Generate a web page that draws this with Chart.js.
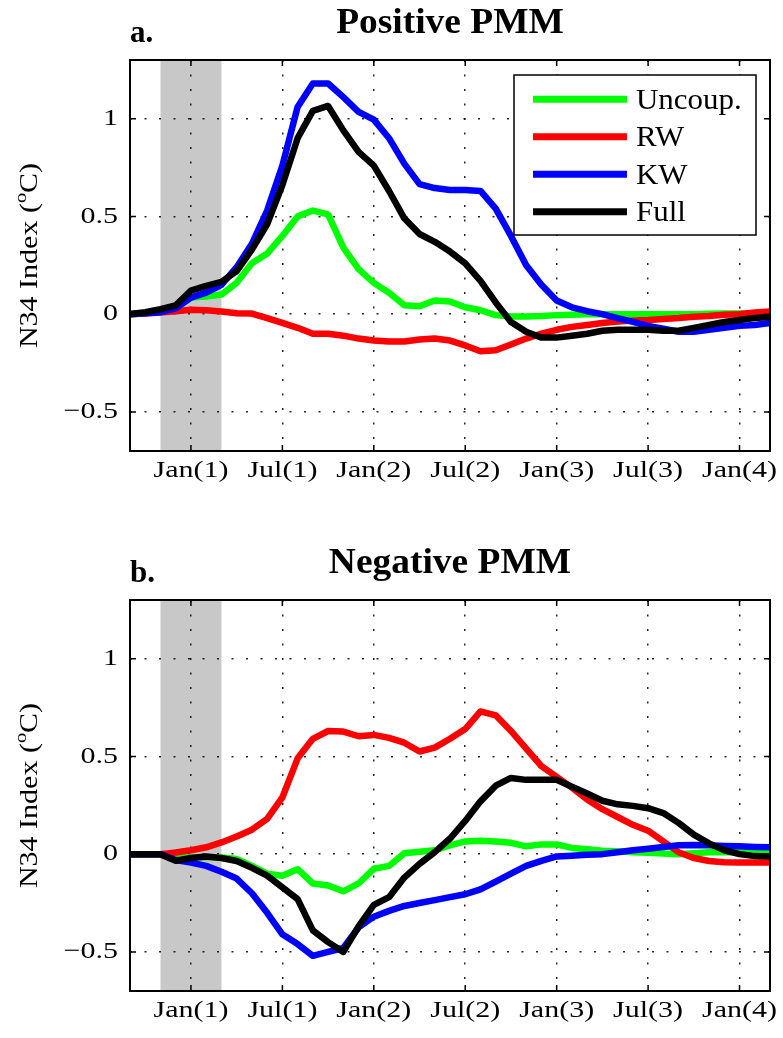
<!DOCTYPE html>
<html><head><meta charset="utf-8">
<script src="https://cdn.jsdelivr.net/npm/chart.js@4.4.1/dist/chart.umd.min.js"></script>
<style>
html,body{margin:0;padding:0;background:#fff;}
#wrap{position:relative;width:783px;height:1038px;overflow:hidden;background:#fff;}
canvas{position:absolute;left:0;}
#ca{top:0}
#cb{top:540px}
</style></head><body>
<div id="wrap"><canvas id="ca" width="783" height="540"></canvas><canvas id="cb" width="783" height="498"></canvas></div>
<script>
// ---------- data ----------
const months = [-4,-3,-2,-1,0,1,2,3,4,5,6,7,8,9,10,11,12,13,14,15,16,17,18,19,20,21,22,23,24,25,26,27,28,29,30,31,32,33,34,35,36,37,38];
const xTickValues = [0,6,12,18,24,30,36];
const xTickLabels = ['Jan(1)','Jul(1)','Jan(2)','Jul(2)','Jan(3)','Jul(3)','Jan(4)'];
const yTickValues = [-0.5,0,0.5,1];
const yTickLabels = ['\u22120.5','0','0.5','1'];
const seriesNames = ['Uncoup.','RW','KW','Full'];
const seriesColors = ['#00ff00','#ff0000','#0000ff','#000000'];
const shadeRange = [-2,2];

// Positive PMM
const posUncoup = [0,0.005,0.015,0.03,0.085,0.09,0.1,0.16,0.26,0.31,0.4,0.5,0.53,0.51,0.34,0.23,0.16,0.11,0.045,0.04,0.07,0.065,0.035,0.02,-0.005,-0.012,-0.012,-0.01,-0.005,-0.003,0,0,0,0,0,0,0,0,0.002,0.003,0.003,0.003,0.003];
const posRW     = [0,0.003,0.008,0.015,0.022,0.02,0.013,0.005,0.003,-0.02,-0.045,-0.07,-0.1,-0.1,-0.11,-0.125,-0.135,-0.14,-0.14,-0.13,-0.125,-0.135,-0.16,-0.19,-0.185,-0.155,-0.125,-0.1,-0.08,-0.065,-0.055,-0.045,-0.038,-0.033,-0.03,-0.025,-0.02,-0.013,-0.009,-0.003,0,0.008,0.013];
const posKW     = [0,0.005,0.01,0.03,0.085,0.11,0.15,0.24,0.36,0.53,0.76,1.06,1.18,1.18,1.11,1.035,0.995,0.9,0.77,0.665,0.645,0.635,0.635,0.63,0.54,0.4,0.25,0.15,0.07,0.035,0.015,0,-0.02,-0.04,-0.06,-0.075,-0.09,-0.09,-0.08,-0.07,-0.06,-0.055,-0.045];
const posFull   = [0,0.01,0.025,0.045,0.12,0.145,0.165,0.22,0.33,0.46,0.66,0.9,1.04,1.065,0.94,0.83,0.76,0.63,0.49,0.41,0.37,0.32,0.26,0.17,0.06,-0.04,-0.09,-0.12,-0.12,-0.11,-0.1,-0.085,-0.08,-0.08,-0.08,-0.085,-0.085,-0.07,-0.055,-0.04,-0.03,-0.02,-0.015];

// Negative PMM
const negUncoup = [0,0,0,-0.02,-0.017,-0.015,-0.017,-0.025,-0.06,-0.1,-0.11,-0.077,-0.15,-0.16,-0.19,-0.15,-0.075,-0.06,0.005,0.012,0.02,0.045,0.065,0.068,0.065,0.058,0.04,0.05,0.05,0.032,0.025,0.018,0.015,0.01,0.007,0.003,0,0.005,0.01,0.01,0.01,0.009,0.009];
const negRW     = [0,0,0,0.008,0.02,0.035,0.06,0.09,0.125,0.18,0.29,0.49,0.59,0.63,0.627,0.603,0.61,0.595,0.57,0.525,0.545,0.59,0.64,0.73,0.71,0.63,0.54,0.45,0.395,0.34,0.28,0.23,0.19,0.15,0.12,0.065,0.01,-0.02,-0.035,-0.042,-0.043,-0.043,-0.043];
const negKW     = [0,0,0,-0.03,-0.043,-0.06,-0.09,-0.125,-0.2,-0.3,-0.41,-0.46,-0.52,-0.5,-0.48,-0.375,-0.32,-0.29,-0.265,-0.25,-0.235,-0.22,-0.205,-0.18,-0.14,-0.1,-0.06,-0.034,-0.012,-0.008,-0.003,0,0.01,0.02,0.028,0.037,0.045,0.047,0.045,0.042,0.04,0.037,0.035];
const negFull   = [0,0,0,-0.034,-0.02,-0.012,-0.02,-0.035,-0.07,-0.11,-0.17,-0.23,-0.39,-0.45,-0.5,-0.37,-0.26,-0.22,-0.12,-0.05,0.01,0.08,0.17,0.27,0.35,0.39,0.38,0.38,0.38,0.345,0.31,0.273,0.255,0.247,0.235,0.21,0.16,0.1,0.055,0.02,0,-0.01,-0.012];

// ---------- drawing ----------
const SERIF = "'Liberation Serif','Times New Roman',serif";

function patchText(ctx){
  const orig = ctx.fillText;
  ctx._stretch = 1;
  ctx.fillText = function(t, x, y){
    const s = this._stretch || 1;
    if (s === 1) return orig.call(this, t, x, y);
    this.save(); this.translate(x, y); this.scale(s, 1); orig.call(this, t, 0, 0); this.restore();
  };
}

const framePlugin = {
  id: 'frame',
  beforeDraw(chart){
    const {ctx, chartArea:a, scales:{x}} = chart;
    ctx.save();
    ctx.fillStyle = '#c8c8c8';
    const x0 = x.getPixelForValue(shadeRange[0]), x1 = x.getPixelForValue(shadeRange[1]);
    ctx.fillRect(x0, a.top, x1-x0, a.bottom-a.top);
    ctx.restore();
    ctx._stretch = 1.25;
  },
  afterDraw(chart, args, opts){
    const {ctx, chartArea:a, scales:{x, y}} = chart;
    ctx._stretch = 1;
    ctx.save();
    // inward ticks
    ctx.strokeStyle = '#000'; ctx.lineWidth = 1.5;
    ctx.beginPath();
    xTickValues.forEach(v => {
      const px = x.getPixelForValue(v);
      ctx.moveTo(px, a.top); ctx.lineTo(px, a.top+6);
      ctx.moveTo(px, a.bottom); ctx.lineTo(px, a.bottom-6);
    });
    yTickValues.forEach(v => {
      const py = y.getPixelForValue(v);
      ctx.moveTo(a.left, py); ctx.lineTo(a.left+6, py);
      ctx.moveTo(a.right, py); ctx.lineTo(a.right-6, py);
    });
    ctx.stroke();
    ctx.lineWidth = 2;
    ctx.strokeRect(a.left, a.top, a.right-a.left, a.bottom-a.top);

    // titles
    ctx.fillStyle = '#000';
    ctx.textBaseline = 'alphabetic';
    ctx.font = 'bold 35px ' + SERIF; ctx.textAlign = 'center';
    ctx._stretch = 1.07;
    ctx.fillText(opts.title, (a.left+a.right)/2, 33);
    ctx._stretch = 1;
    ctx.font = 'bold 31px ' + SERIF; ctx.textAlign = 'left';
    ctx.fillText(opts.tag, a.left, 42);

    // y label with superscript
    const s = 1.2;
    const f1 = '25px ' + SERIF, f2 = '17px ' + SERIF;
    const p1 = 'N34 Index (', p2 = 'o', p3 = 'C)';
    ctx.font = f1; const w1 = ctx.measureText(p1).width*s, w3 = ctx.measureText(p3).width*s;
    ctx.font = f2; const w2 = ctx.measureText(p2).width*s;
    const tot = w1 + w2 + w3;
    ctx.save();
    ctx.translate(37, (a.top+a.bottom)/2);
    ctx.rotate(-Math.PI/2);
    ctx.textAlign = 'left';
    ctx._stretch = s;
    let cx = -tot/2;
    ctx.font = f1; ctx.fillText(p1, cx, 0); cx += w1;
    ctx.font = f2; ctx.fillText(p2, cx, -11); cx += w2;
    ctx.font = f1; ctx.fillText(p3, cx, 0);
    ctx._stretch = 1;
    ctx.restore();

    // legend
    if (opts.legend){
      const bx = a.right - 256, by = a.top + 15, bw = 242, bh = 160;
      ctx.fillStyle = '#fff'; ctx.fillRect(bx, by, bw, bh);
      ctx.strokeStyle = '#000'; ctx.lineWidth = 1.5; ctx.strokeRect(bx, by, bw, bh);
      ctx.font = '28.5px ' + SERIF; ctx.textAlign = 'left'; ctx.textBaseline = 'alphabetic';
      chart.data.datasets.forEach((ds, i) => {
        const ly = by + 24.3 + i*37.5;
        ctx.strokeStyle = ds.borderColor; ctx.lineWidth = 7; ctx.lineCap = 'butt';
        ctx.beginPath(); ctx.moveTo(bx+19, ly); ctx.lineTo(bx+113, ly); ctx.stroke();
        ctx.fillStyle = '#000';
        ctx._stretch = 1.085;
        ctx.fillText(ds.label, bx+122, ly+9.5);
        ctx._stretch = 1;
      });
    }
    ctx.restore();
  }
};

function makeChart(id, series, title, tag, legend){
  const canvas = document.getElementById(id);
  const ctx = canvas.getContext('2d');
  patchText(ctx);
  const H = canvas.height;
  const datasets = series.map((vals, i) => ({
    label: seriesNames[i],
    data: months.map((m, k) => ({x: m, y: vals[k]})),
    borderColor: seriesColors[i],
    backgroundColor: seriesColors[i],
    borderWidth: 6.5,
    pointRadius: 0,
    tension: 0,
    borderJoinStyle: 'round',
    fill: false,
    order: series.length - i
  }));
  return new Chart(ctx, {
    type: 'line',
    data: {datasets},
    options: {
      responsive: false, animation: false, devicePixelRatio: 1,
      layout: {padding: {top: 60, right: 13, left: 0, bottom: 0}},
      scales: {
        x: {
          type: 'linear', min: -4, max: 38,
          afterFit: s => { s.height = H - 451; },
          afterBuildTicks: s => { s.ticks = xTickValues.map(v => ({value: v})); },
          ticks: {
            callback: (v, i) => xTickLabels[i],
            font: {family: SERIF, size: 24}, color: '#000', padding: 5,
            maxRotation: 0, autoSkip: false
          },
          grid: {color: 'rgba(0,0,0,0.85)', lineWidth: 1.5, drawTicks: false, tickLength: 0},
          border: {display: false, dash: [2, 12.5]}
        },
        y: {
          type: 'linear', min: -0.7, max: 1.3,
          afterFit: s => { s.width = 130; },
          afterBuildTicks: s => { s.ticks = yTickValues.map(v => ({value: v})); },
          ticks: {
            callback: (v, i) => yTickLabels[i],
            font: {family: SERIF, size: 24}, color: '#000', padding: 12
          },
          grid: {color: 'rgba(0,0,0,0.85)', lineWidth: 1.5, drawTicks: false, tickLength: 0},
          border: {display: false, dash: [2, 12.5]}
        }
      },
      plugins: {
        legend: {display: false},
        tooltip: {enabled: false},
        frame: {title, tag, legend}
      }
    },
    plugins: [framePlugin]
  });
}

makeChart('ca', [posUncoup, posRW, posKW, posFull], 'Positive PMM', 'a.', true);
makeChart('cb', [negUncoup, negRW, negKW, negFull], 'Negative PMM', 'b.', false);
</script>
</body></html>
